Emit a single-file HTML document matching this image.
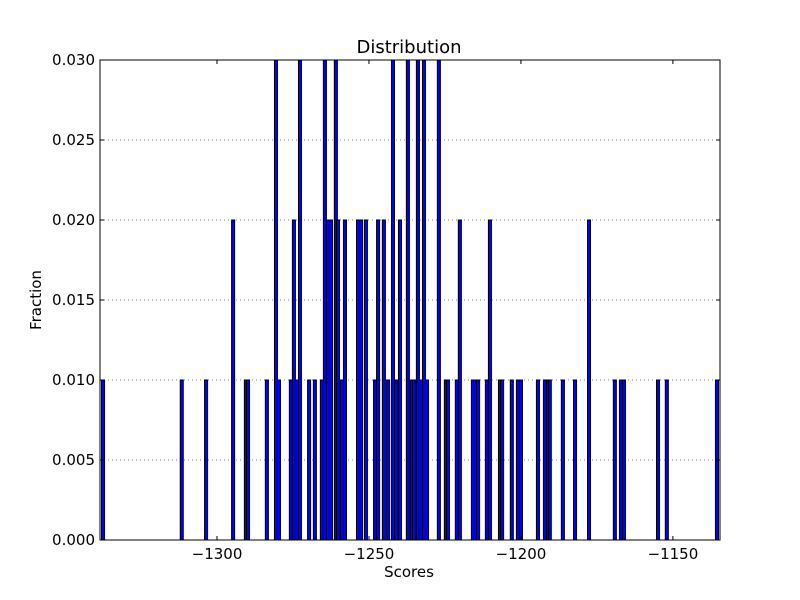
<!DOCTYPE html>
<html><head><meta charset="utf-8"><style>
body{margin:0;background:#fff;}
svg{display:block;font-family:"DejaVu Sans","Liberation Sans",sans-serif;}
</style></head><body>
<svg id="chart" width="800" height="600" viewBox="0 0 800 600">
<rect x="0" y="0" width="800" height="600" fill="#fff"/>
<g id="grid"></g>
<g id="bars"></g>
<g id="axes"></g>
<text x="409" y="53" font-size="18" text-anchor="middle">Distribution</text>
<text x="409" y="577" font-size="15" text-anchor="middle">Scores</text>
<text x="41" y="300" font-size="15" text-anchor="middle" transform="rotate(-90 41 300)">Fraction</text>
</svg>
<script>
const scores = [-1337.5,-1311.6,-1303.6,-1294.7,-1290.5,-1289.8,-1283.6,-1280.6,-1279.6,-1275.7,-1274.7,-1273.7,-1272.7,-1269.7,-1267.8,-1265.5,-1264.5,-1263.5,-1262.5,-1260.9,-1260.2,-1258.9,-1257.9,-1253.6,-1252.6,-1251.0,-1248.0,-1247.0,-1245.1,-1243.7,-1242.1,-1241.1,-1239.8,-1237.2,-1235.9,-1235.2,-1233.9,-1232.9,-1231.9,-1230.9,-1227.0,-1224.7,-1224.0,-1221.1,-1220.1,-1215.8,-1215.1,-1214.1,-1211.2,-1210.2,-1206.9,-1206.2,-1203.0,-1201.0,-1200.0,-1194.4,-1192.1,-1191.1,-1190.5,-1186.2,-1182.2,-1177.6,-1169.1,-1167.1,-1166.1,-1154.9,-1152.0,-1135.5];
const fractions = [0.01,0.01,0.01,0.02,0.01,0.01,0.01,0.03,0.01,0.01,0.02,0.01,0.03,0.01,0.01,0.01,0.03,0.02,0.02,0.03,0.02,0.01,0.02,0.02,0.02,0.02,0.01,0.02,0.02,0.01,0.03,0.01,0.02,0.03,0.01,0.01,0.03,0.01,0.03,0.01,0.03,0.01,0.01,0.01,0.02,0.01,0.01,0.01,0.01,0.02,0.01,0.01,0.01,0.01,0.01,0.01,0.01,0.01,0.01,0.01,0.01,0.02,0.01,0.01,0.01,0.01,0.01,0.01];
const xTicks = [-1300,-1250,-1200,-1150];
const yTicks = [0,0.005,0.01,0.015,0.02,0.025,0.03];
const binWidth = 1.0;

const L=100,R=720,T=60,B=540;
const xMin=-1338.5, xMax=-1134.5, yMax=0.03;
const sx = v => L + (v-xMin)/(xMax-xMin)*(R-L);
const sy = v => B - v/yMax*(B-T);
const NS="http://www.w3.org/2000/svg";
function mk(tag, attrs, parent){const e=document.createElementNS(NS,tag);for(const k in attrs)e.setAttribute(k,attrs[k]);parent.appendChild(e);return e;}

const grid=document.getElementById('grid');
yTicks.forEach((t,i)=>{ if(t>0 && t<yMax){
  const g=mk('line',{x1:L,x2:R,y1:sy(t),y2:sy(t),stroke:'#000','stroke-width':0.6,'stroke-dasharray':'1,3'},grid);
  
  
}});

const bars=document.getElementById('bars');
const clip=mk('clipPath',{id:'pc'},document.getElementById('chart'));
mk('rect',{x:L,y:T,width:R-L,height:B-T},clip);
bars.setAttribute('clip-path','url(#pc)');
scores.forEach((s,i)=>{
  const x0=sx(s-binWidth/2), x1=sx(s+binWidth/2);
  const r=mk('rect',{x:x0,y:sy(fractions[i]),width:x1-x0,height:B-sy(fractions[i]),fill:'#0000ff',stroke:'#000','stroke-width':1},bars);
  
  
});

const axes=document.getElementById('axes');
const frame=mk('rect',{x:L,y:T,width:R-L,height:B-T,fill:'none',stroke:'#000','stroke-width':1},axes);


xTicks.forEach(t=>{
  const x=sx(t);
  mk('line',{x1:x,x2:x,y1:B,y2:B-4,stroke:'#000'},axes);
  mk('line',{x1:x,x2:x,y1:T,y2:T+4,stroke:'#000'},axes);
  const lb=mk('text',{x:x,y:B+19,'font-size':15,'text-anchor':'middle'},axes);
  lb.textContent='\u2212'+Math.abs(t);
  
  
});
yTicks.forEach(t=>{
  const y=sy(t);
  mk('line',{x1:L,x2:L+4,y1:y,y2:y,stroke:'#000'},axes);
  mk('line',{x1:R,x2:R-4,y1:y,y2:y,stroke:'#000'},axes);
  const lb=mk('text',{x:L-5,y:y+5,'font-size':15,'text-anchor':'end'},axes);
  lb.textContent=t.toFixed(3);
  
  
});
</script>
</body></html>
